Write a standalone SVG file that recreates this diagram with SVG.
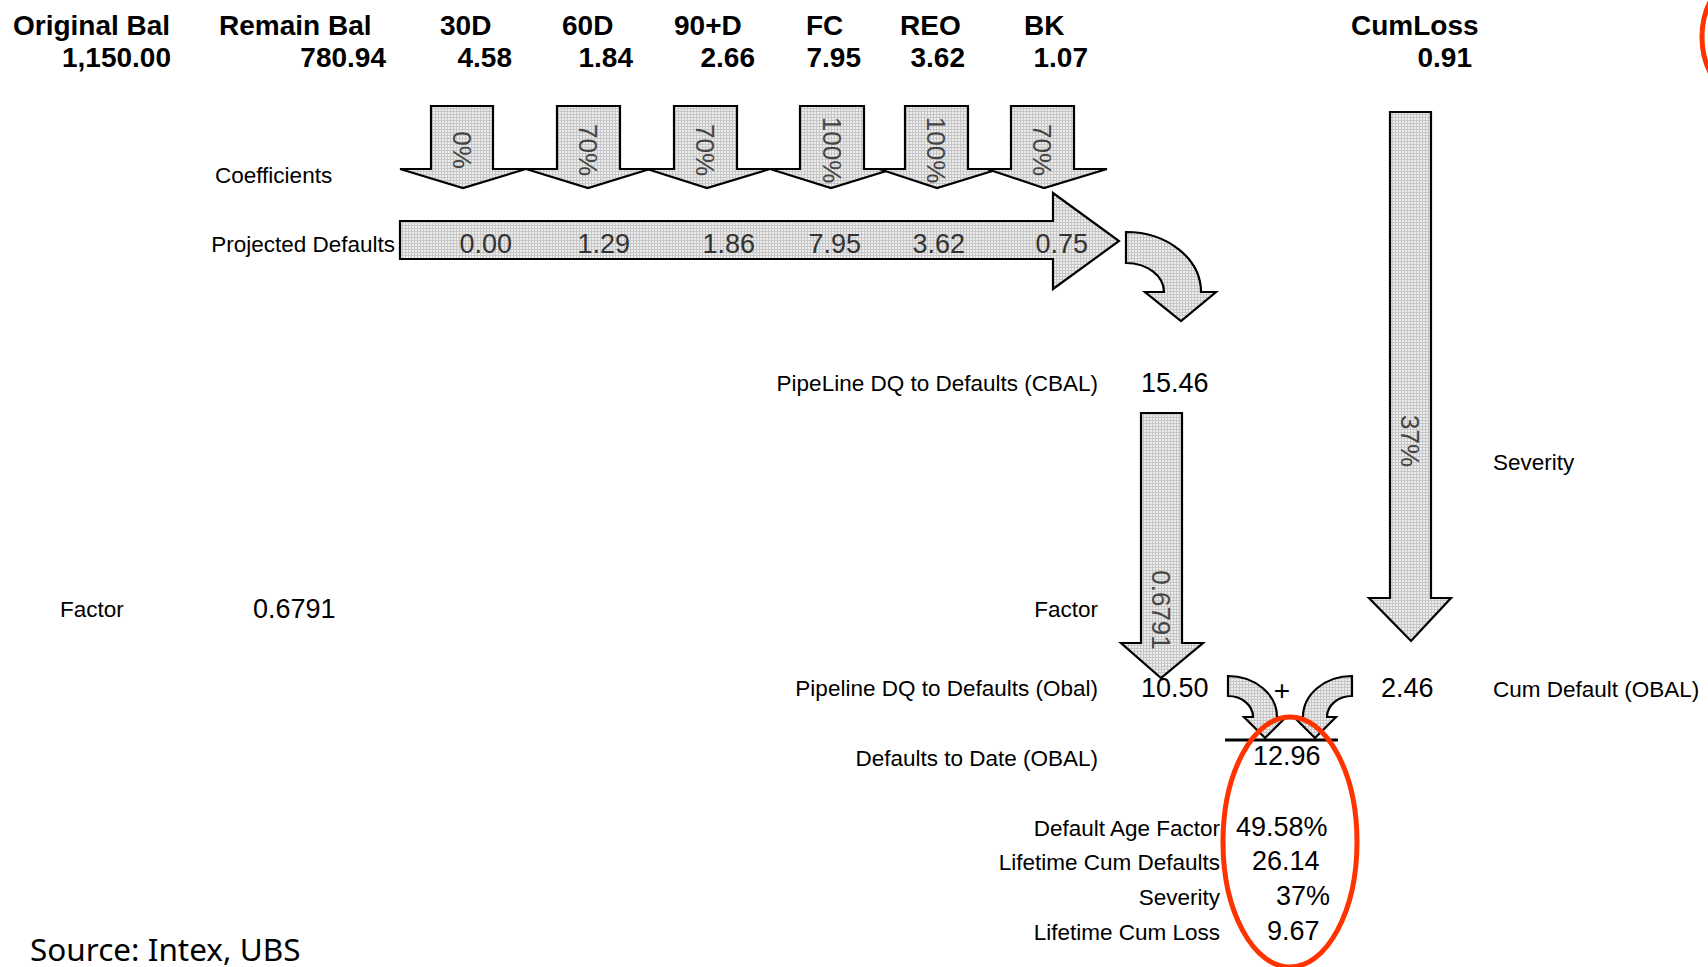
<svg xmlns="http://www.w3.org/2000/svg" width="1708" height="967" viewBox="0 0 1708 967">
<style>
.h{font-family:"Liberation Sans",Arial,sans-serif;font-weight:bold;font-size:28px;fill:#000}
.l{font-family:"Liberation Sans",Arial,sans-serif;font-size:22.5px;fill:#000}
.n{font-family:"Liberation Sans",Arial,sans-serif;font-size:27px;fill:#000}
.v{font-family:"Liberation Sans",Arial,sans-serif;font-size:27px;fill:#333}
.r{font-family:"Liberation Sans",Arial,sans-serif;font-size:26px;fill:#444;dominant-baseline:central;text-anchor:middle}
.e{text-anchor:end}
.arr{fill:url(#grid);stroke:#000;stroke-width:2.2;stroke-linejoin:miter}
.red{fill:none;stroke:#FF3300;stroke-width:5}
</style>
<defs>
<pattern id="grid" width="3" height="3" patternUnits="userSpaceOnUse">
<rect width="3" height="3" fill="#ededed"/>
<path d="M0 0.5H3M0.5 0V3" stroke="#c6c6c6" stroke-width="1"/>
</pattern>
</defs>
<rect width="1708" height="967" fill="#fff"/>

<g id="header">
<text class="h" x="13" y="35">Original Bal</text>
<text class="h e" x="171" y="67">1,150.00</text>
<text class="h" x="219" y="35">Remain Bal</text>
<text class="h e" x="386" y="67">780.94</text>
<text class="h" x="440" y="35">30D</text>
<text class="h e" x="512" y="67">4.58</text>
<text class="h" x="562" y="35">60D</text>
<text class="h e" x="633" y="67">1.84</text>
<text class="h" x="674" y="35">90+D</text>
<text class="h e" x="755" y="67">2.66</text>
<text class="h" x="806" y="35">FC</text>
<text class="h e" x="861" y="67">7.95</text>
<text class="h" x="900" y="35">REO</text>
<text class="h e" x="965" y="67">3.62</text>
<text class="h" x="1024" y="35">BK</text>
<text class="h e" x="1088" y="67">1.07</text>
<text class="h" x="1351" y="35">CumLoss</text>
<text class="h e" x="1472" y="67">0.91</text>
</g>

<g id="labels">
<text class="l" x="215" y="183">Coefficients</text>
<text class="l e" x="395" y="252">Projected Defaults</text>
<text class="l e" x="1098" y="391">PipeLine DQ to Defaults (CBAL)</text>
<text class="n" x="1141" y="392">15.46</text>
<text class="l" x="60" y="617">Factor</text>
<text class="n" x="253" y="618">0.6791</text>
<text class="l e" x="1098" y="617">Factor</text>
<text class="l" x="1493" y="470">Severity</text>
<text class="l e" x="1098" y="696">Pipeline DQ to Defaults (Obal)</text>
<text class="n" x="1141" y="697">10.50</text>
<text class="n" x="1381" y="697">2.46</text>
<text class="l" x="1493" y="697">Cum Default (OBAL)</text>
<text class="l e" x="1098" y="766">Defaults to Date (OBAL)</text>
<text class="n" x="1253" y="765">12.96</text>
<text class="l e" x="1220" y="836">Default Age Factor</text>
<text class="n" x="1236" y="836">49.58%</text>
<text class="l e" x="1220" y="870">Lifetime Cum Defaults</text>
<text class="n" x="1252" y="870">26.14</text>
<text class="l e" x="1220" y="905">Severity</text>
<text class="n" x="1276" y="905">37%</text>
<text class="l e" x="1220" y="940">Lifetime Cum Loss</text>
<text class="n" x="1267" y="940">9.67</text>
<text x="30" y="961" style="font-family:'Noto Sans','Open Sans',sans-serif;font-size:31.5px;fill:#000">Source: Intex, UBS</text>
</g>

<g id="connectors">
<g id="coef-0">
<polygon class="arr" points="431,106 493,106 493,169 526,169 463,188 400,169 431,169"/>
<text class="r" transform="translate(462,150) rotate(90)">0%</text>
</g>
<g id="coef-60">
<polygon class="arr" points="557,106 620,106 620,169 650,169 588,188 526,169 557,169"/>
<text class="r" transform="translate(588,150) rotate(90)">70%</text>
</g>
<g id="coef-90">
<polygon class="arr" points="674,106 737,106 737,169 770,169 707,188 647,169 674,169"/>
<text class="r" transform="translate(705,150) rotate(90)">70%</text>
</g>
<g id="coef-fc">
<polygon class="arr" points="800,106 864,106 864,169 893,169 831,188 770,169 800,169"/>
<text class="r" transform="translate(832,150) rotate(90)">100%</text>
</g>
<g id="coef-reo">
<polygon class="arr" points="905,106 968,106 968,169 999,169 937,188 879,169 905,169"/>
<text class="r" transform="translate(936,150) rotate(90)">100%</text>
</g>
<g id="coef-bk">
<polygon class="arr" points="1011,106 1074,106 1074,169 1107,169 1044,188 987,169 1011,169"/>
<text class="r" transform="translate(1042,150) rotate(90)">70%</text>
</g>
<g id="projected">
<polygon class="arr" points="400,221 1053,221 1053,193 1119,241 1053,289 1053,259 400,259"/>
<text class="v e" x="512" y="253">0.00</text>
<text class="v e" x="630" y="253">1.29</text>
<text class="v e" x="755" y="253">1.86</text>
<text class="v e" x="861" y="253">7.95</text>
<text class="v e" x="965" y="253">3.62</text>
<text class="v e" x="1088" y="253">0.75</text>
</g>
<path id="curve-down" class="arr" d="M1126,232 A75,60 0 0 1 1201,292 L1216,292 L1181,321 L1145,292 L1164,292 A38,29 0 0 0 1126,263 Z"/>
<g id="factor-arrow">
<polygon class="arr" points="1141,413 1182,413 1182,643 1203,643 1161,678 1121,643 1141,643"/>
<text class="r" transform="translate(1161,610) rotate(90)">0.6791</text>
</g>
<g id="severity-arrow">
<polygon class="arr" points="1390,112 1431,112 1431,598 1451,598 1411,641 1369,598 1390,598"/>
<text class="r" transform="translate(1410,441) rotate(90)">37%</text>
</g>
<path id="sum-left" class="arr" d="M1228,676 A49,41 0 0 1 1277,717 L1286,717 L1265,738 L1244,717 L1253,717 A25,21 0 0 0 1228,696 Z"/>
<path id="sum-right" class="arr" d="M1352,676 A49,41 0 0 0 1303,717 L1294,717 L1315,738 L1336,717 L1327,717 A25,21 0 0 1 1352,696 Z"/>
<text class="n" x="1282" y="700" text-anchor="middle" style="font-size:28px">+</text>
<line x1="1225" y1="740" x2="1338" y2="740" stroke="#000" stroke-width="3"/>
</g>

<g id="highlights">
<ellipse class="red" cx="1290" cy="842" rx="67" ry="125"/>
<ellipse class="red" cx="1762" cy="37" rx="60" ry="70"/>
</g>
</svg>
